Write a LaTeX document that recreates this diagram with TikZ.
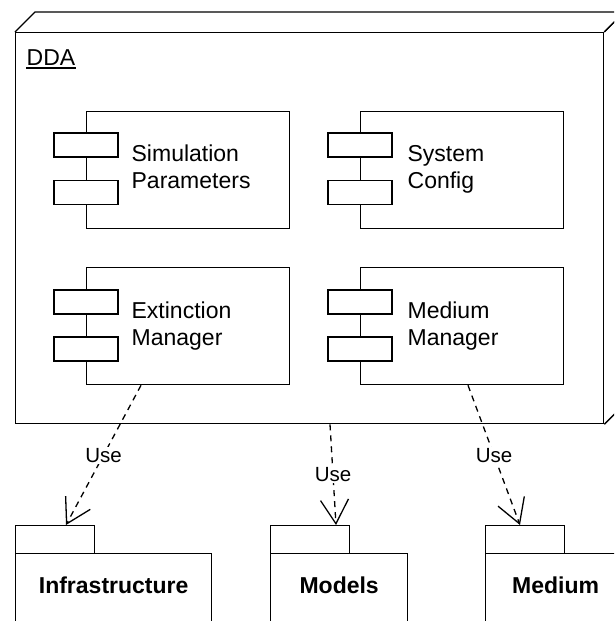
\documentclass[tikz,border=0pt]{standalone}
\usepackage{fontspec}
\setmainfont{Liberation Sans}
\usetikzlibrary{arrows.meta,calc}

\begin{document}
\begin{tikzpicture}[x=1pt,y=-1pt,line width=1.3pt,
  comp/.style={draw,fill=white,minimum width=203pt,minimum height=117pt,inner sep=0pt,anchor=north west},
  port/.style={draw,fill=white,minimum width=64pt,minimum height=24pt,inner sep=0pt},
  ctext/.style={anchor=base west,align=left,inner sep=0pt,font=\fontsize{23}{27}\selectfont},
  pkgtab/.style={draw,fill=white,minimum width=79pt,minimum height=28pt,inner sep=0pt,anchor=north west},
  pkgbody/.style={draw,fill=white,minimum height=90pt,inner sep=0pt,anchor=north west},
  pkgtext/.style={inner sep=0pt,font=\fontsize{23}{27}\selectfont\bfseries},
  uses/.style={dash pattern=on 6pt off 5pt,-{Straight Barb[length=24pt,width=28pt,line width=1.3pt]}},
  lbl/.style={fill=white,inner sep=1.5pt,font=\fontsize{20.5}{24}\selectfont}]

\path[use as bounding box] (0,0) rectangle (614,621);
\clip (0,0) rectangle (614,621);

% DDA node drawn as a 3D box
\node[draw,fill=white,minimum width=588pt,minimum height=391pt,inner sep=0pt,anchor=north west] (dda) at (15,32) {};
\draw[line join=round] (dda.north west) -- ++(20,-20) -- ($(dda.north east)+(20,-20)$) -- (dda.north east);
\draw[line join=round] (dda.north east) -- ++(20,-20) -- ($(dda.south east)+(20,-20)$) -- (dda.south east);
\node[anchor=base west,inner sep=0pt,font=\fontsize{23}{27}\selectfont] (ddalabel) at (26,65) {DDA};
\draw[line width=1.2pt] ($(ddalabel.base west)+(0,3)$) -- ($(ddalabel.base east)+(0,3)$);

% Components
\node[comp] (sim) at (86,111) {};
\node[port] (simpa) at ($(sim.north west)+(0,34)$) {};
\node[port] (simpb) at ($(sim.north west)+(0,81.5)$) {};
\node[ctext] (simt) at ($(sim.north west)+(45,77)$) {Simulation\\Parameters};

\node[comp] (sys) at (360,111) {};
\node[port] (syspa) at ($(sys.north west)+(0,34)$) {};
\node[port] (syspb) at ($(sys.north west)+(0,81.5)$) {};
\node[ctext] (syst) at ($(sys.north west)+(47,77)$) {System\\Config};

\node[comp] (ext) at (86,267) {};
\node[port] (extpa) at ($(ext.north west)+(0,35)$) {};
\node[port] (extpb) at ($(ext.north west)+(0,82)$) {};
\node[ctext] (extt) at ($(ext.north west)+(45,78)$) {Extinction\\Manager};

\node[comp] (med) at (360,267) {};
\node[port] (medpa) at ($(med.north west)+(0,35)$) {};
\node[port] (medpb) at ($(med.north west)+(0,82)$) {};
\node[ctext] (medt) at ($(med.north west)+(47,78)$) {Medium\\Manager};

% Packages
\node[pkgtab] (inftab) at (15,525) {};
\node[pkgbody,minimum width=196pt] (infbody) at (15,553) {};
\node[pkgtext] (inflabel) at ($(infbody.north)+(0,32)$) {Infrastructure};

\node[pkgtab] (modtab) at (270,525) {};
\node[pkgbody,minimum width=137pt] (modbody) at (270,553) {};
\node[pkgtext] (modlabel) at ($(modbody.north)+(0,32)$) {Models};

\node[pkgtab] (medtab) at (485,525) {};
\node[pkgbody,minimum width=140pt] (medbody) at (485,553) {};
\node[pkgtext] (medlabel) at ($(medbody.north)+(0,32)$) {Medium};

% Dependencies
\draw[uses] ($(ext.south west)+(55,0)$) -- node[lbl] (u1) {Use} ($(inftab.north west)+(51,0)$);
\draw[uses] ($(dda.south west)+(315,0)$) -- node[lbl] (u2) {Use} ($(modtab.north west)+(66,0)$);
\draw[uses] ($(med.south west)+(108,0)$) -- node[lbl] (u3) {Use} ($(medtab.north west)+(35,0)$);
\end{tikzpicture}
\end{document}
